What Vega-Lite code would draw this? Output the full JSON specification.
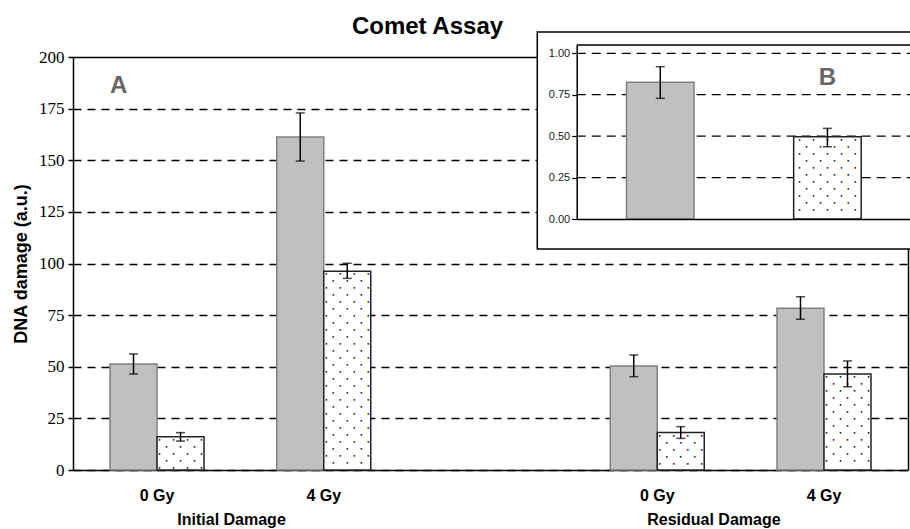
{
  "$schema": "https://vega.github.io/schema/vega-lite/v6.json",
  "width": 835,
  "height": 413,
  "autosize": {"type": "none"},
  "padding": {"left": 73, "top": 57, "right": 2, "bottom": 59},
  "title": {"text": "Comet Assay", "font": "Liberation Sans", "fontSize": 24, "fontWeight": "bold", "anchor": "middle", "frame": "group", "dx": -63, "baseline": "alphabetic", "offset": -27, "color": "#000"},
  "config": {"view": {"stroke": null}, "font": "Liberation Sans"},
  "resolve": {"scale": {"x": "independent", "y": "independent"}},
  "layer": [
    {
      "data": {"values": [
        {"cat": "Initial|0 Gy", "series": "grey", "value": 51.3, "lo": 46.5, "hi": 56.2},
        {"cat": "Initial|0 Gy", "series": "dotted", "value": 16.1, "lo": 14.0, "hi": 18.1},
        {"cat": "Initial|4 Gy", "series": "grey", "value": 161.3, "lo": 149.6, "hi": 172.9},
        {"cat": "Initial|4 Gy", "series": "dotted", "value": 96.2, "lo": 92.8, "hi": 100.1},
        {"cat": "Residual|0 Gy", "series": "grey", "value": 50.4, "lo": 45.2, "hi": 55.7},
        {"cat": "Residual|0 Gy", "series": "dotted", "value": 18.1, "lo": 15.3, "hi": 21.0},
        {"cat": "Residual|4 Gy", "series": "grey", "value": 78.3, "lo": 73.0, "hi": 83.9},
        {"cat": "Residual|4 Gy", "series": "dotted", "value": 46.5, "lo": 40.3, "hi": 52.8}
      ]},
      "resolve": {"axis": {"y": "independent"}},
      "layer": [
        {
          "mark": {"type": "bar", "strokeWidth": 1.5},
          "encoding": {
            "x": {"field": "cat", "type": "nominal",
              "scale": {"domain": ["Initial|0 Gy", "Initial|4 Gy", "gap", "Residual|0 Gy", "Residual|4 Gy"], "paddingInner": 0.4363, "paddingOuter": 0.222},
              "axis": {"title": null, "labelExpr": "indexof(datum.value, '|') >= 0 ? split(datum.value, '|')[1] : ''", "labelFont": "Liberation Sans", "labelFontSize": 16, "labelFontWeight": "bold", "labelColor": "#000", "labelPadding": 17, "labelAngle": 0, "ticks": false, "tickSize": 0, "domainColor": "#000", "domainWidth": 1.5, "grid": false}},
            "xOffset": {"field": "series", "type": "nominal", "scale": {"domain": ["grey", "dotted"], "paddingInner": 0, "paddingOuter": 0}},
            "y": {"field": "value", "type": "quantitative",
              "scale": {"domain": [0, 200], "nice": false, "zero": true},
              "axis": {"title": "DNA damage (a.u.)", "titleFont": "Liberation Sans", "titleFontSize": 18, "titleFontWeight": "bold", "titleColor": "#000", "titlePadding": 8,
                "values": [0, 25, 50, 75, 100, 125, 150, 175, 200], "labelFont": "Liberation Serif", "labelFontSize": 17, "labelColor": "#000", "labelPadding": 4,
                "tickSize": 5, "tickColor": "#000", "tickWidth": 1.5, "domainColor": "#000", "domainWidth": 1.5,
                "grid": true, "gridColor": "#000", "gridOpacity": 1,
                "gridWidth": {"condition": {"test": "datum.value === 200", "value": 1.5}, "value": 1.3},
                "gridDash": {"condition": {"test": "datum.value === 200", "value": []}, "value": [8, 6]}}},
            "fill": {"field": "series", "type": "nominal", "scale": {"domain": ["grey", "dotted"], "range": ["#c0c0c0", "#ffffff"]}, "legend": null},
            "stroke": {"field": "series", "type": "nominal", "scale": {"domain": ["grey", "dotted"], "range": ["#808080", "#222222"]}, "legend": null}
          }
        },
        {
          "transform": [{"filter": "datum.series === 'dotted'"}],
          "mark": {"type": "text", "font": "DejaVu Sans Mono", "fontSize": 5.8, "lineHeight": 7, "baseline": "top", "align": "center", "dy": 0, "color": "#000", "clip": true},
          "encoding": {
            "x": {"field": "cat", "type": "nominal", "scale": {"domain": ["Initial|0 Gy", "Initial|4 Gy", "gap", "Residual|0 Gy", "Residual|4 Gy"], "paddingInner": 0.4363, "paddingOuter": 0.222}},
            "xOffset": {"field": "series", "type": "nominal", "scale": {"domain": ["grey", "dotted"], "paddingInner": 0, "paddingOuter": 0}},
            "y": {"field": "value", "type": "quantitative", "scale": {"domain": [0, 200], "nice": false, "zero": true}, "axis": null},
            "text": {
              "condition": [
                {"test": "datum.value < 25", "value": ["\u2022\u00a0\u00a0\u00a0\u2022\u00a0\u00a0\u00a0\u2022\u00a0\u00a0\u00a0\u2022", "\u2022\u00a0\u00a0\u00a0\u2022\u00a0\u00a0\u00a0\u2022", "\u2022\u00a0\u00a0\u00a0\u2022\u00a0\u00a0\u00a0\u2022\u00a0\u00a0\u00a0\u2022", "\u2022\u00a0\u00a0\u00a0\u2022\u00a0\u00a0\u00a0\u2022", "\u2022\u00a0\u00a0\u00a0\u2022\u00a0\u00a0\u00a0\u2022\u00a0\u00a0\u00a0\u2022"]},
                {"test": "datum.value < 60", "value": ["\u2022\u00a0\u00a0\u00a0\u2022\u00a0\u00a0\u00a0\u2022\u00a0\u00a0\u00a0\u2022", "\u2022\u00a0\u00a0\u00a0\u2022\u00a0\u00a0\u00a0\u2022", "\u2022\u00a0\u00a0\u00a0\u2022\u00a0\u00a0\u00a0\u2022\u00a0\u00a0\u00a0\u2022", "\u2022\u00a0\u00a0\u00a0\u2022\u00a0\u00a0\u00a0\u2022", "\u2022\u00a0\u00a0\u00a0\u2022\u00a0\u00a0\u00a0\u2022\u00a0\u00a0\u00a0\u2022", "\u2022\u00a0\u00a0\u00a0\u2022\u00a0\u00a0\u00a0\u2022", "\u2022\u00a0\u00a0\u00a0\u2022\u00a0\u00a0\u00a0\u2022\u00a0\u00a0\u00a0\u2022", "\u2022\u00a0\u00a0\u00a0\u2022\u00a0\u00a0\u00a0\u2022", "\u2022\u00a0\u00a0\u00a0\u2022\u00a0\u00a0\u00a0\u2022\u00a0\u00a0\u00a0\u2022", "\u2022\u00a0\u00a0\u00a0\u2022\u00a0\u00a0\u00a0\u2022", "\u2022\u00a0\u00a0\u00a0\u2022\u00a0\u00a0\u00a0\u2022\u00a0\u00a0\u00a0\u2022", "\u2022\u00a0\u00a0\u00a0\u2022\u00a0\u00a0\u00a0\u2022", "\u2022\u00a0\u00a0\u00a0\u2022\u00a0\u00a0\u00a0\u2022\u00a0\u00a0\u00a0\u2022"]}
              ],
              "value": ["\u2022\u00a0\u00a0\u00a0\u2022\u00a0\u00a0\u00a0\u2022\u00a0\u00a0\u00a0\u2022", "\u2022\u00a0\u00a0\u00a0\u2022\u00a0\u00a0\u00a0\u2022", "\u2022\u00a0\u00a0\u00a0\u2022\u00a0\u00a0\u00a0\u2022\u00a0\u00a0\u00a0\u2022", "\u2022\u00a0\u00a0\u00a0\u2022\u00a0\u00a0\u00a0\u2022", "\u2022\u00a0\u00a0\u00a0\u2022\u00a0\u00a0\u00a0\u2022\u00a0\u00a0\u00a0\u2022", "\u2022\u00a0\u00a0\u00a0\u2022\u00a0\u00a0\u00a0\u2022", "\u2022\u00a0\u00a0\u00a0\u2022\u00a0\u00a0\u00a0\u2022\u00a0\u00a0\u00a0\u2022", "\u2022\u00a0\u00a0\u00a0\u2022\u00a0\u00a0\u00a0\u2022", "\u2022\u00a0\u00a0\u00a0\u2022\u00a0\u00a0\u00a0\u2022\u00a0\u00a0\u00a0\u2022", "\u2022\u00a0\u00a0\u00a0\u2022\u00a0\u00a0\u00a0\u2022", "\u2022\u00a0\u00a0\u00a0\u2022\u00a0\u00a0\u00a0\u2022\u00a0\u00a0\u00a0\u2022", "\u2022\u00a0\u00a0\u00a0\u2022\u00a0\u00a0\u00a0\u2022", "\u2022\u00a0\u00a0\u00a0\u2022\u00a0\u00a0\u00a0\u2022\u00a0\u00a0\u00a0\u2022", "\u2022\u00a0\u00a0\u00a0\u2022\u00a0\u00a0\u00a0\u2022", "\u2022\u00a0\u00a0\u00a0\u2022\u00a0\u00a0\u00a0\u2022\u00a0\u00a0\u00a0\u2022", "\u2022\u00a0\u00a0\u00a0\u2022\u00a0\u00a0\u00a0\u2022", "\u2022\u00a0\u00a0\u00a0\u2022\u00a0\u00a0\u00a0\u2022\u00a0\u00a0\u00a0\u2022", "\u2022\u00a0\u00a0\u00a0\u2022\u00a0\u00a0\u00a0\u2022", "\u2022\u00a0\u00a0\u00a0\u2022\u00a0\u00a0\u00a0\u2022\u00a0\u00a0\u00a0\u2022", "\u2022\u00a0\u00a0\u00a0\u2022\u00a0\u00a0\u00a0\u2022", "\u2022\u00a0\u00a0\u00a0\u2022\u00a0\u00a0\u00a0\u2022\u00a0\u00a0\u00a0\u2022", "\u2022\u00a0\u00a0\u00a0\u2022\u00a0\u00a0\u00a0\u2022", "\u2022\u00a0\u00a0\u00a0\u2022\u00a0\u00a0\u00a0\u2022\u00a0\u00a0\u00a0\u2022", "\u2022\u00a0\u00a0\u00a0\u2022\u00a0\u00a0\u00a0\u2022", "\u2022\u00a0\u00a0\u00a0\u2022\u00a0\u00a0\u00a0\u2022\u00a0\u00a0\u00a0\u2022", "\u2022\u00a0\u00a0\u00a0\u2022\u00a0\u00a0\u00a0\u2022", "\u2022\u00a0\u00a0\u00a0\u2022\u00a0\u00a0\u00a0\u2022\u00a0\u00a0\u00a0\u2022", "\u2022\u00a0\u00a0\u00a0\u2022\u00a0\u00a0\u00a0\u2022"]
            }
          }
        },
        {
          "mark": {"type": "rule", "color": "#000", "strokeWidth": 1.5},
          "encoding": {
            "x": {"field": "cat", "type": "nominal", "scale": {"domain": ["Initial|0 Gy", "Initial|4 Gy", "gap", "Residual|0 Gy", "Residual|4 Gy"], "paddingInner": 0.4363, "paddingOuter": 0.222}},
            "xOffset": {"field": "series", "type": "nominal", "scale": {"domain": ["grey", "dotted"], "paddingInner": 0, "paddingOuter": 0}},
            "y": {"field": "lo", "type": "quantitative", "scale": {"domain": [0, 200], "nice": false, "zero": true},
              "axis": {"orient": "right", "labels": false, "ticks": false, "grid": false, "domainColor": "#000", "domainWidth": 1.5, "title": null}},
            "y2": {"field": "hi"}
          }
        },
        {
          "mark": {"type": "tick", "color": "#000", "size": 9, "thickness": 1.5},
          "encoding": {
            "x": {"field": "cat", "type": "nominal", "scale": {"domain": ["Initial|0 Gy", "Initial|4 Gy", "gap", "Residual|0 Gy", "Residual|4 Gy"], "paddingInner": 0.4363, "paddingOuter": 0.222}},
            "xOffset": {"field": "series", "type": "nominal", "scale": {"domain": ["grey", "dotted"], "paddingInner": 0, "paddingOuter": 0}},
            "y": {"field": "hi", "type": "quantitative", "scale": {"domain": [0, 200], "nice": false, "zero": true}, "axis": null}
          }
        },
        {
          "mark": {"type": "tick", "color": "#000", "size": 9, "thickness": 1.5},
          "encoding": {
            "x": {"field": "cat", "type": "nominal", "scale": {"domain": ["Initial|0 Gy", "Initial|4 Gy", "gap", "Residual|0 Gy", "Residual|4 Gy"], "paddingInner": 0.4363, "paddingOuter": 0.222}},
            "xOffset": {"field": "series", "type": "nominal", "scale": {"domain": ["grey", "dotted"], "paddingInner": 0, "paddingOuter": 0}},
            "y": {"field": "lo", "type": "quantitative", "scale": {"domain": [0, 200], "nice": false, "zero": true}, "axis": null}
          }
        },
        {
          "data": {"values": [{"label": "A"}]},
          "mark": {"type": "text", "font": "Liberation Sans", "fontSize": 24, "fontWeight": "bold", "color": "#666", "align": "left", "baseline": "alphabetic"},
          "encoding": {
            "text": {"field": "label"},
            "x": {"datum": "Initial|0 Gy", "type": "nominal", "bandPosition": 0, "scale": {"domain": ["Initial|0 Gy", "Initial|4 Gy", "gap", "Residual|0 Gy", "Residual|4 Gy"], "paddingInner": 0.4363, "paddingOuter": 0.222}},
            "y": {"datum": 182.6, "type": "quantitative", "scale": {"domain": [0, 200], "nice": false, "zero": true}, "axis": null}
          }
        },
        {
          "data": {"values": [{"label": "Initial Damage"}]},
          "mark": {"type": "text", "font": "Liberation Sans", "fontSize": 16, "fontWeight": "bold", "color": "#000", "align": "center", "baseline": "alphabetic"},
          "encoding": {
            "text": {"field": "label"},
            "x": {"datum": "Initial|0 Gy", "type": "nominal", "bandPosition": 1.293, "scale": {"domain": ["Initial|0 Gy", "Initial|4 Gy", "gap", "Residual|0 Gy", "Residual|4 Gy"], "paddingInner": 0.4363, "paddingOuter": 0.222}},
            "y": {"datum": -26.6, "type": "quantitative", "scale": {"domain": [0, 200], "nice": false, "zero": true}, "axis": null}
          }
        },
        {
          "data": {"values": [{"label": "Residual Damage"}]},
          "mark": {"type": "text", "font": "Liberation Sans", "fontSize": 16, "fontWeight": "bold", "color": "#000", "align": "center", "baseline": "alphabetic"},
          "encoding": {
            "text": {"field": "label"},
            "x": {"datum": "Residual|0 Gy", "type": "nominal", "bandPosition": 1.103, "scale": {"domain": ["Initial|0 Gy", "Initial|4 Gy", "gap", "Residual|0 Gy", "Residual|4 Gy"], "paddingInner": 0.4363, "paddingOuter": 0.222}},
            "y": {"datum": -26.6, "type": "quantitative", "scale": {"domain": [0, 200], "nice": false, "zero": true}, "axis": null}
          }
        }
      ]
    },
    {
      "data": {"values": [{"box": "inset"}]},
      "mark": {"type": "rect", "fill": "#ffffff", "stroke": "#000", "strokeWidth": 1.5},
      "encoding": {
        "x": {"datum": 0, "type": "quantitative", "scale": {"domain": [0, 1], "range": [464.3, 846]}, "axis": null},
        "x2": {"datum": 1},
        "y": {"datum": 0, "type": "quantitative", "scale": {"domain": [0, 1], "range": [192, -25]}, "axis": null},
        "y2": {"datum": 1}
      }
    },
    {
      "data": {"values": [
        {"series": "grey", "value": 0.825, "lo": 0.728, "hi": 0.919},
        {"series": "dotted", "value": 0.497, "lo": 0.436, "hi": 0.547}
      ]},
      "resolve": {"scale": {"x": "independent"}},
      "layer": [
        {
          "data": {"values": [{"g": 0.25}, {"g": 0.5}, {"g": 0.75}, {"g": 1.0}]},
          "mark": {"type": "rule", "color": "#000", "strokeWidth": 1.3, "strokeDash": [9, 6]},
          "encoding": {
            "x": {"datum": 0, "type": "quantitative", "scale": {"domain": [0, 1], "range": [503.7, 846]}, "axis": null},
            "x2": {"datum": 1},
            "y": {"field": "g", "type": "quantitative", "scale": {"domain": [0, 1.05], "range": [162, -12], "nice": false, "zero": true}}
          }
        },
        {
          "data": {"values": [{"g": 1.05}]},
          "mark": {"type": "rule", "color": "#000", "strokeWidth": 1.5},
          "encoding": {
            "x": {"datum": 0, "type": "quantitative", "scale": {"domain": [0, 1], "range": [503.7, 846]}, "axis": null},
            "x2": {"datum": 1},
            "y": {"field": "g", "type": "quantitative", "scale": {"domain": [0, 1.05], "range": [162, -12], "nice": false, "zero": true}}
          }
        },
        {
          "mark": {"type": "bar", "strokeWidth": 1.5},
          "encoding": {
            "x": {"field": "series", "type": "nominal",
              "scale": {"domain": ["grey", "dotted"], "range": [503.7, 838], "paddingInner": 0.596, "paddingOuter": 0.298},
              "axis": {"orient": "bottom", "offset": -251, "zindex": 1, "labels": false, "ticks": false, "grid": false, "domainColor": "#000", "domainWidth": 1.5, "title": null}},
            "y": {"field": "value", "type": "quantitative",
              "scale": {"domain": [0, 1.05], "range": [162, -12], "nice": false, "zero": true},
              "axis": {"orient": "left", "offset": -503.7, "zindex": 1, "values": [0, 0.25, 0.5, 0.75, 1], "format": ".2f", "labelFont": "Liberation Sans", "labelFontSize": 11, "labelColor": "#222", "labelPadding": 2, "tickSize": 5, "tickColor": "#000", "tickWidth": 1.2, "domainColor": "#000", "domainWidth": 1.5, "grid": false, "title": null}},
            "fill": {"field": "series", "type": "nominal", "scale": {"domain": ["grey", "dotted"], "range": ["#c0c0c0", "#ffffff"]}, "legend": null},
            "stroke": {"field": "series", "type": "nominal", "scale": {"domain": ["grey", "dotted"], "range": ["#808080", "#222222"]}, "legend": null}
          }
        },
        {
          "transform": [{"filter": "datum.series === 'dotted'"}],
          "mark": {"type": "text", "font": "DejaVu Sans Mono", "fontSize": 5.8, "lineHeight": 7, "baseline": "top", "align": "center", "dy": 0, "color": "#000",
            "text": ["\u2022\u00a0\u00a0\u00a0\u2022\u00a0\u00a0\u00a0\u2022\u00a0\u00a0\u00a0\u2022\u00a0\u00a0\u00a0\u2022", "\u2022\u00a0\u00a0\u00a0\u2022\u00a0\u00a0\u00a0\u2022\u00a0\u00a0\u00a0\u2022", "\u2022\u00a0\u00a0\u00a0\u2022\u00a0\u00a0\u00a0\u2022\u00a0\u00a0\u00a0\u2022\u00a0\u00a0\u00a0\u2022", "\u2022\u00a0\u00a0\u00a0\u2022\u00a0\u00a0\u00a0\u2022\u00a0\u00a0\u00a0\u2022", "\u2022\u00a0\u00a0\u00a0\u2022\u00a0\u00a0\u00a0\u2022\u00a0\u00a0\u00a0\u2022\u00a0\u00a0\u00a0\u2022", "\u2022\u00a0\u00a0\u00a0\u2022\u00a0\u00a0\u00a0\u2022\u00a0\u00a0\u00a0\u2022", "\u2022\u00a0\u00a0\u00a0\u2022\u00a0\u00a0\u00a0\u2022\u00a0\u00a0\u00a0\u2022\u00a0\u00a0\u00a0\u2022", "\u2022\u00a0\u00a0\u00a0\u2022\u00a0\u00a0\u00a0\u2022\u00a0\u00a0\u00a0\u2022", "\u2022\u00a0\u00a0\u00a0\u2022\u00a0\u00a0\u00a0\u2022\u00a0\u00a0\u00a0\u2022\u00a0\u00a0\u00a0\u2022", "\u2022\u00a0\u00a0\u00a0\u2022\u00a0\u00a0\u00a0\u2022\u00a0\u00a0\u00a0\u2022", "\u2022\u00a0\u00a0\u00a0\u2022\u00a0\u00a0\u00a0\u2022\u00a0\u00a0\u00a0\u2022\u00a0\u00a0\u00a0\u2022"]},
          "encoding": {
            "x": {"field": "series", "type": "nominal", "scale": {"domain": ["grey", "dotted"], "range": [503.7, 838], "paddingInner": 0.596, "paddingOuter": 0.298}, "axis": null},
            "y": {"field": "value", "type": "quantitative", "scale": {"domain": [0, 1.05], "range": [162, -12], "nice": false, "zero": true}}
          }
        },
        {
          "mark": {"type": "rule", "color": "#000", "strokeWidth": 1.5},
          "encoding": {
            "x": {"field": "series", "type": "nominal", "scale": {"domain": ["grey", "dotted"], "range": [503.7, 838], "paddingInner": 0.596, "paddingOuter": 0.298}, "axis": null},
            "y": {"field": "lo", "type": "quantitative", "scale": {"domain": [0, 1.05], "range": [162, -12], "nice": false, "zero": true}},
            "y2": {"field": "hi"}
          }
        },
        {
          "mark": {"type": "tick", "color": "#000", "size": 9, "thickness": 1.5},
          "encoding": {
            "x": {"field": "series", "type": "nominal", "scale": {"domain": ["grey", "dotted"], "range": [503.7, 838], "paddingInner": 0.596, "paddingOuter": 0.298}, "axis": null},
            "y": {"field": "hi", "type": "quantitative", "scale": {"domain": [0, 1.05], "range": [162, -12], "nice": false, "zero": true}}
          }
        },
        {
          "mark": {"type": "tick", "color": "#000", "size": 9, "thickness": 1.5},
          "encoding": {
            "x": {"field": "series", "type": "nominal", "scale": {"domain": ["grey", "dotted"], "range": [503.7, 838], "paddingInner": 0.596, "paddingOuter": 0.298}, "axis": null},
            "y": {"field": "lo", "type": "quantitative", "scale": {"domain": [0, 1.05], "range": [162, -12], "nice": false, "zero": true}}
          }
        },
        {
          "data": {"values": [{"label": "B"}]},
          "mark": {"type": "text", "font": "Liberation Sans", "fontSize": 24, "fontWeight": "bold", "color": "#666", "align": "center", "baseline": "alphabetic"},
          "encoding": {
            "text": {"field": "label"},
            "x": {"datum": "dotted", "type": "nominal", "bandPosition": 0.95, "scale": {"domain": ["grey", "dotted"], "range": [503.7, 838], "paddingInner": 0.596, "paddingOuter": 0.298}, "axis": null},
            "y": {"datum": 0.809, "type": "quantitative", "scale": {"domain": [0, 1.05], "range": [162, -12], "nice": false, "zero": true}}
          }
        }
      ]
    }
  ]
}
